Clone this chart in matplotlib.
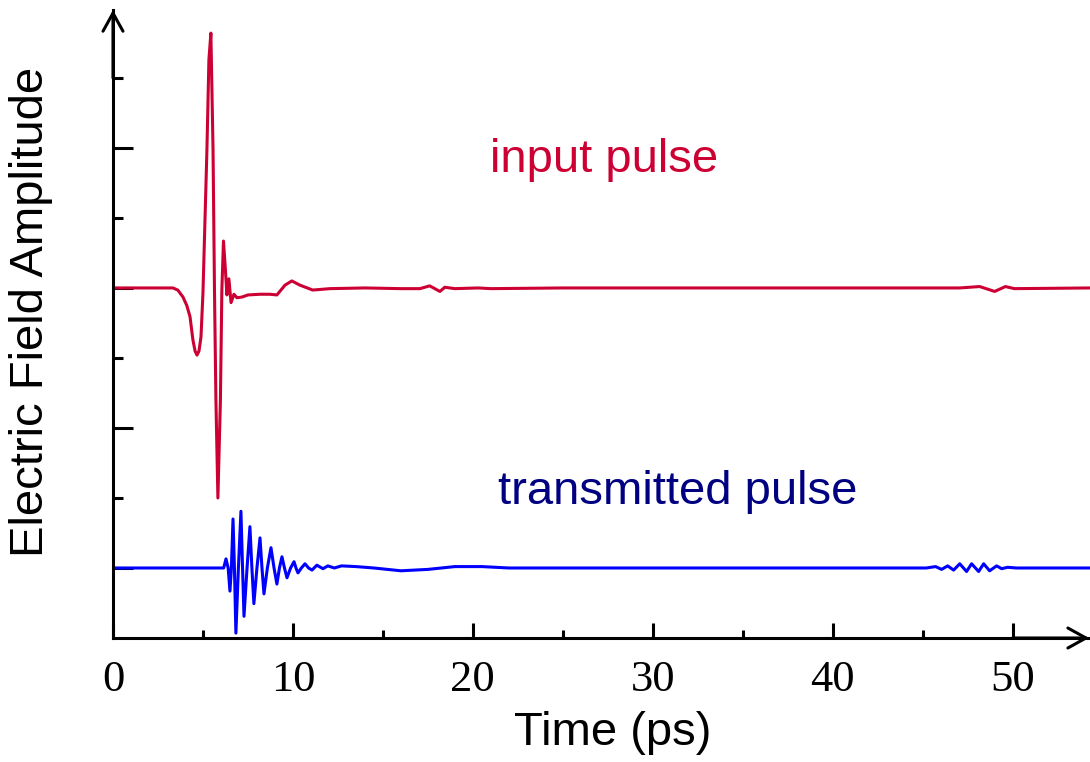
import numpy as np
import matplotlib.pyplot as plt

# time axis (ps) and amplitudes (relative to each trace's baseline)
input_t = [0, 3.33, 3.6, 3.89, 4.1, 4.28, 4.44, 4.56, 4.67, 4.78, 4.89, 5.0, 5.22, 5.33, 5.44,
           5.56, 5.64, 5.72, 5.83, 5.97, 6.05, 6.14, 6.25, 6.33, 6.44, 6.56, 6.72, 6.89, 7.17,
           7.5, 8.17, 8.72, 9.11, 9.56, 9.94, 10.39, 11.1, 12.06, 14.0, 16.0, 17.06, 17.6,
           18.17, 18.44, 19.0, 20.3, 21.0, 25, 30, 35, 40, 45, 47.06, 48.17, 49.0, 49.6, 50.1,
           54.3]
input_amp = [0, 0, -0.03, -0.13, -0.25, -0.41, -0.74, -0.9, -0.96, -0.9, -0.70, -0.07, 1.97,
             3.26, 3.64, 1.97, -0.03, -1.6, -3.0, -1.6, -0.03, 0.67, 0.25, -0.1, 0.13, -0.21,
             -0.09, -0.14, -0.13, -0.1, -0.09, -0.09, -0.1, 0.04, 0.1, 0.04, -0.03, -0.01, 0.0,
             -0.01, -0.01, 0.03, -0.05, 0.01, -0.01, 0.0, -0.01, 0.0, 0.0, 0.0, 0.0, 0.0, 0.0,
             0.02, -0.05, 0.02, -0.01, 0.0]

trans_t = [0, 5.95, 6.15, 6.28, 6.4, 6.5, 6.58, 6.67, 6.75, 6.83, 6.97, 7.11, 7.2, 7.28, 7.45,
           7.61, 7.72, 7.83, 8.0, 8.17, 8.28, 8.39, 8.58, 8.78, 8.95, 9.11, 9.25, 9.39, 9.53,
           9.67, 9.87, 10.06, 10.17, 10.28, 10.47, 10.67, 10.87, 11.06, 11.33, 11.67, 11.94,
           12.3, 12.7, 13.5, 14.5, 16.0, 17.5, 19.0, 20.5, 22.0, 30, 40, 45.2, 45.72, 46.05,
           46.39, 46.72, 47.06, 47.44, 47.72, 48.11, 48.39, 48.72, 49.11, 49.39, 49.72, 50.2, 54.3]
trans_amp = [0, 0, 0.0, 0.13, 0.0, -0.33, 0.0, 0.70, 0.0, -0.93, 0.0, 0.81, 0.0, -0.69, 0.0,
             0.59, 0.0, -0.51, 0.0, 0.43, 0.0, -0.37, 0.0, 0.29, 0.0, -0.23, 0.0, 0.16, 0.0,
             -0.14, 0.0, 0.09, 0.0, -0.07, 0.0, 0.06, 0.0, -0.03, 0.04, -0.01, 0.03,
             0.0, 0.03, 0.02, 0.0, -0.04, -0.02, 0.02, 0.02, 0.0, 0.0, 0.0, 0.0, 0.02, -0.02,
             0.03, -0.03, 0.06, -0.05, 0.06, -0.05, 0.06, -0.04, 0.03, -0.01, 0.01, 0.0, 0.0]

input_offset = 5
trans_offset = 1

red = '#CC0033'
blue = '#0000FF'
navy = '#000080'

fig = plt.figure(figsize=(10.9, 7.62), dpi=100)
ax = fig.add_axes([113 / 1090, 124 / 762, 1 - 113 / 1090, 628 / 762])

ax.plot(input_t, np.array(input_amp) + input_offset, color=red, lw=2.2,
        solid_joinstyle='round')
ax.plot(trans_t, np.array(trans_amp) + trans_offset, color=blue, lw=2.2,
        solid_joinstyle='round')

ax.set_xlim(0, 54.3)
ax.set_ylim(0, 8.97)

for s in ['top', 'right']:
    ax.spines[s].set_visible(False)
for s in ['left', 'bottom']:
    ax.spines[s].set_linewidth(2.2)
    ax.spines[s].set_capstyle('projecting')

# arrow heads on the axes
ax.annotate('', xy=(0, 8.97), xytext=(0, 8.0), annotation_clip=False,
            arrowprops=dict(arrowstyle='->,head_length=0.65,head_width=0.36', lw=2.2,
                            mutation_scale=20, color='black', shrinkA=0, shrinkB=0))
ax.annotate('', xy=(54.25, 0), xytext=(50, 0), annotation_clip=False,
            arrowprops=dict(arrowstyle='->,head_length=0.65,head_width=0.36', lw=2.2,
                            mutation_scale=20, color='black', shrinkA=0, shrinkB=0))

ax.set_xticks([0, 10, 20, 30, 40, 50])
ax.set_xticks([5, 15, 25, 35, 45], minor=True)
ax.set_xticklabels(['0', '10', '20', '30', '40', '50'], family='Liberation Serif', fontsize=32)
ax.set_yticks([1, 3, 5, 7])
ax.set_yticks([2, 4, 6, 8], minor=True)
ax.set_yticklabels([])
ax.tick_params(axis='x', which='major', direction='in', length=11, width=2.2, pad=16)
ax.tick_params(axis='x', which='minor', direction='in', length=6, width=2.2)
ax.tick_params(axis='y', which='major', direction='in', length=14.5, width=2.2)
ax.tick_params(axis='y', which='minor', direction='in', length=7.2, width=2.2)

ax.text(27.3, 6.83, 'input pulse', color=red, fontsize=34, family='Liberation Sans',
        ha='center', va='center')
ax.text(31.4, 2.09, 'transmitted pulse', color=navy, fontsize=34, family='Liberation Sans',
        ha='center', va='center')

fig.text(613 / 1090, 1 - 733 / 762, 'Time (ps)', fontsize=34, family='Liberation Sans',
         ha='center', va='center')
fig.text(31 / 1090, 1 - 312 / 762, 'Electric Field Amplitude', fontsize=34,
         family='Liberation Sans', rotation=90, ha='center', va='center')

fig.savefig('out.png', dpi=100)
